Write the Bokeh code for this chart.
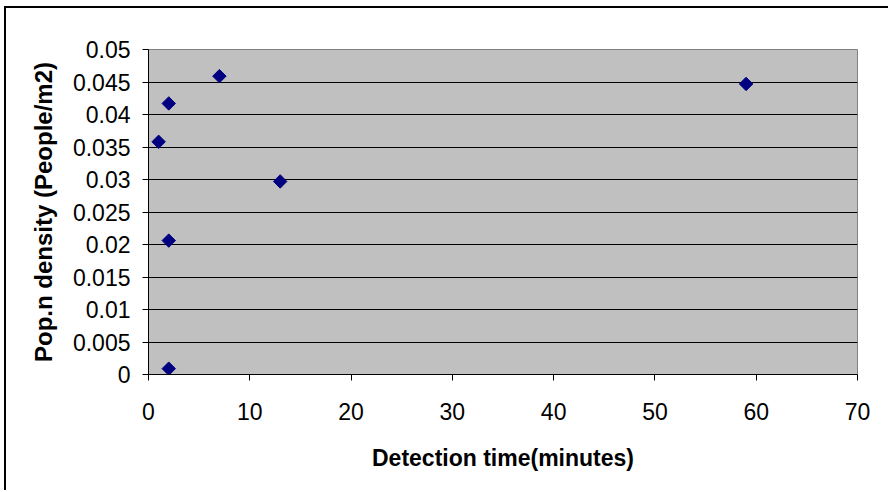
import math
from bokeh.plotting import figure
from bokeh.models import ColumnDataSource, FixedTicker, Range1d
from bokeh.embed import file_html
from bokeh.resources import INLINE

# Data
detection_time = [1, 2, 7, 13, 2, 2, 59]
pop_density = [0.0358, 0.0417, 0.0459, 0.0297, 0.0206, 0.0009, 0.0447]

x_ticks = [0, 10, 20, 30, 40, 50, 60, 70]
y_ticks = [0, 0.005, 0.01, 0.015, 0.02, 0.025, 0.03, 0.035, 0.04, 0.045, 0.05]
y_tick_labels = ["0", "0.005", "0.01", "0.015", "0.02", "0.025", "0.03",
                 "0.035", "0.04", "0.045", "0.05"]
x_tick_labels = [str(t) for t in x_ticks]

W, H = 884, 484
p = figure(width=W, height=H, output_backend="svg", toolbar_location=None,
           x_range=Range1d(0, 70), y_range=Range1d(0, 0.05),
           min_border_left=142, min_border_right=33,
           min_border_top=41, min_border_bottom=118)
p.styles = {"margin-left": "4px", "margin-top": "6px",
            "border-left": "2px solid #000000", "border-top": "2px solid #000000"}

p.background_fill_color = "#C0C0C0"
p.border_fill_color = "#FFFFFF"
p.outline_line_color = "#808080"
p.outline_line_width = 1

src = ColumnDataSource(dict(x=detection_time, y=pop_density))
p.scatter("x", "y", source=src, marker="square", size=9.5, angle=math.pi / 4,
          fill_color="#000080", line_color="#000080")

FONT = "Liberation Sans"

p.xaxis.ticker = FixedTicker(ticks=x_ticks)
p.xaxis.major_label_overrides = {t: l for t, l in zip(x_ticks, x_tick_labels)}
p.yaxis.ticker = FixedTicker(ticks=y_ticks)
p.yaxis.major_label_overrides = {t: l for t, l in zip(y_ticks, y_tick_labels)}

for ax in (p.xaxis[0], p.yaxis[0]):
    ax.axis_line_color = "#000000"
    ax.axis_line_width = 1
    ax.major_tick_line_color = "#000000"
    ax.major_tick_out = 6
    ax.major_tick_in = 0
    ax.minor_tick_line_color = None
    ax.major_label_text_font = FONT
    ax.major_label_text_font_size = "23px"
    ax.major_label_text_color = "#000000"
    ax.axis_label_text_font = FONT
    ax.axis_label_text_font_style = "bold"
    ax.axis_label_text_color = "#000000"

p.xaxis.axis_label_text_font_size = "23px"
p.yaxis.axis_label_text_font_size = "24px"
p.xaxis.axis_label = "Detection time(minutes)"
p.yaxis.axis_label = "Pop.n density (People/m2)"
p.xaxis.major_label_standoff = 22
p.yaxis.major_label_standoff = 12
p.xaxis.axis_label_standoff = 22
p.yaxis.axis_label_standoff = 13

p.xgrid.grid_line_color = None
p.ygrid.grid_line_color = "#000000"
p.ygrid.grid_line_width = 1

open("out.html", "w").write(file_html(p, INLINE))
